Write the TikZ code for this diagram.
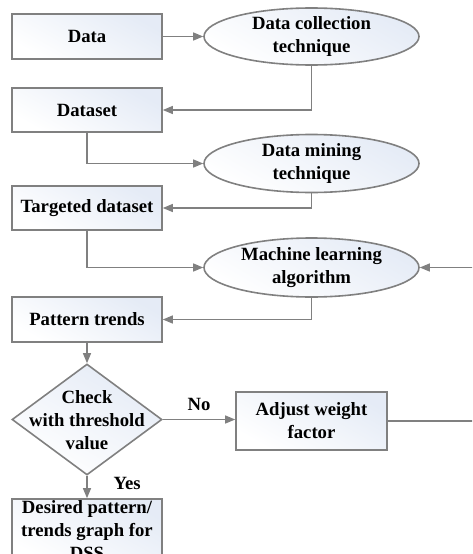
\documentclass[tikz,border=0pt]{standalone}
\usepackage{fontspec}
\setmainfont{Liberation Serif}
\usetikzlibrary{shapes.geometric,arrows.meta}
\definecolor{edgegray}{HTML}{808080}
\definecolor{fillblue}{HTML}{E2E9F5}
\tikzset{
  base/.style={draw=edgegray, line width=1.6pt, inner sep=0pt, align=center,
    font=\fontsize{18.7}{23}\selectfont\bfseries,
    shading=axis, top color=fillblue!90!white, bottom color=white, shading angle=-30},
  box/.style={base, rectangle, minimum width=150pt},
  oval/.style={base, ellipse, minimum width=215pt},
  dia/.style={base, diamond, minimum width=150pt, minimum height=111pt},
  txt/.style={align=center, inner sep=0pt, font=\fontsize{18.7}{23}\selectfont\bfseries},
  lbl/.style={inner sep=0pt, font=\fontsize{18.7}{23}\selectfont\bfseries},
  conn/.style={draw=edgegray, line width=1.3pt, -{Triangle[length=10pt,width=8pt]}},
  plain/.style={draw=edgegray, line width=1.3pt}
}
\begin{document}
\begin{tikzpicture}[x=1pt,y=-1pt]
\useasboundingbox (0,0) rectangle (472,554);
\clip (0,0) rectangle (472,554);
\node[box, minimum height=45pt] (data) at (87,36.5) {Data};
\node[oval, minimum height=57pt] (dct) at (311.5,36.5) {Data collection\\technique};
\node[box, minimum height=44pt] (dataset) at (87,110) {Dataset};
\node[oval, minimum height=58pt] (dmt) at (311.5,163.5) {Data mining\\technique};
\node[box, minimum height=44pt] (target) at (87,208) {Targeted dataset};
\node[oval, minimum height=59pt] (mla) at (311.5,267.5) {Machine learning\\algorithm};
\node[box, minimum height=45pt] (pattern) at (87,319.5) {Pattern trends};
\node[dia] (check) at (87,419.5) {};
\node[txt] (checktext) at (87,420.5) {Check\\with threshold\\value};
\node[box, minimum width=151pt, minimum height=58pt] (adjust) at (311.5,421) {Adjust weight\\factor};
\node[box, minimum height=64pt] (desired) at (87,531) {};
\node[txt] (desiredtext) at (87,530) {Desired pattern/\\trends graph for\\DSS};
\coordinate (rightout) at (490,421);
\coordinate (rightin) at (490,267.5);

\draw[conn] (data) -- (dct);
\draw[conn] (dct.south) |- (dataset.east);
\draw[conn] (dataset.south) |- (dmt.west);
\draw[conn] (dmt.south) |- (target.east);
\draw[conn] (target.south) |- (mla.west);
\draw[conn] (mla.south) |- (pattern.east);
\draw[conn] (pattern) -- (check.north);
\draw[conn] (check.east) -- node[lbl, above=8pt] (no) {No} (check.east -| adjust.west);
\draw[conn] (check.south) -- node[lbl, right=26pt, pos=0.35] (yes) {Yes} (desired.north);
\draw[plain] (adjust.east) -- (rightout) -- (rightin);
\draw[conn] (rightin) -- (mla.east);
\end{tikzpicture}
\end{document}
